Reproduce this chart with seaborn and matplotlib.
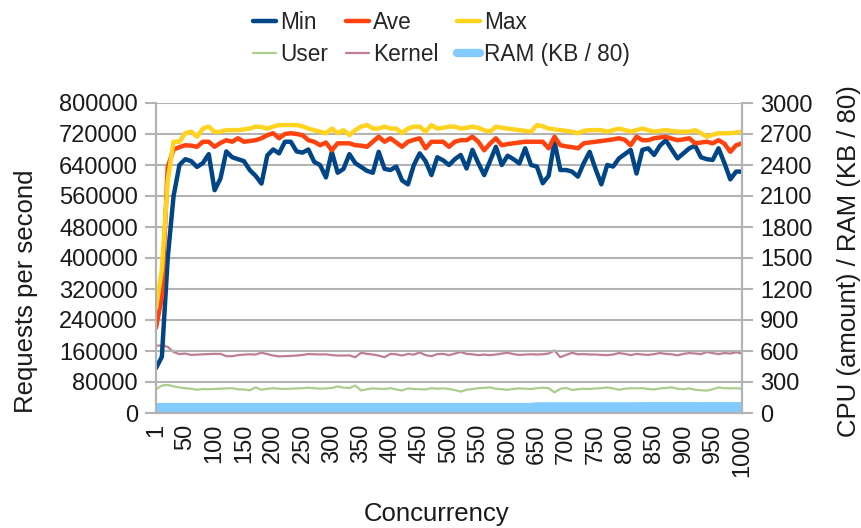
import matplotlib
matplotlib.use("Agg")
import matplotlib.pyplot as plt
import seaborn as sns
import pandas as pd
import numpy as np
from matplotlib.lines import Line2D

# Concurrency categories: 1, 10, 20, ... 1000
concurrency = [1] + list(range(10, 1001, 10))
tick_labels = ["1"] + [str(v) for v in range(50, 1001, 50)]

# Requests per second (left axis)
min_rps = [116000, 145000, 400000, 560000, 640000, 655000, 650000, 635000, 645000, 668000,
           575000, 605000, 675000, 660000, 655000, 650000, 627000, 612000, 592000, 665000,
           680000, 670000, 700000, 700000, 675000, 672000, 680000, 648000, 640000, 608000,
           674000, 620000, 630000, 668000, 645000, 635000, 625000, 620000, 674000, 630000,
           627000, 636000, 600000, 590000, 640000, 670000, 650000, 614000, 660000, 652000,
           640000, 655000, 666000, 631000, 679000, 645000, 614000, 650000, 687000, 640000,
           664000, 655000, 644000, 683000, 640000, 636000, 593000, 612000, 700000, 627000,
           627000, 623000, 610000, 645000, 674000, 630000, 590000, 640000, 636000, 657000,
           668000, 679000, 618000, 679000, 683000, 666000, 690000, 704000, 680000, 657000,
           670000, 683000, 690000, 660000, 655000, 653000, 683000, 645000, 603000, 623000,
           623000]
ave_rps = [220000, 300000, 635000, 680000, 686000, 691000, 690000, 687000, 700000, 700000,
           687000, 697000, 704000, 700000, 709000, 700000, 702000, 704000, 709000, 717000,
           722000, 709000, 720000, 722000, 720000, 717000, 704000, 700000, 691000, 698000,
           678000, 696000, 696000, 696000, 691000, 690000, 687000, 700000, 713000, 700000,
           709000, 698000, 687000, 700000, 705000, 709000, 683000, 700000, 700000, 700000,
           687000, 700000, 704000, 704000, 713000, 700000, 678000, 695000, 709000, 691000,
           694000, 696000, 698000, 700000, 700000, 700000, 700000, 683000, 713000, 691000,
           688000, 686000, 683000, 696000, 698000, 700000, 702000, 704000, 706000, 709000,
           705000, 691000, 713000, 704000, 704000, 709000, 711000, 713000, 708000, 704000,
           706000, 709000, 696000, 698000, 700000, 696000, 704000, 695000, 674000, 691000,
           696000]
max_rps = [270000, 370000, 600000, 700000, 700000, 722000, 726000, 713000, 734000, 739000,
           725000, 726000, 730000, 730000, 730000, 732000, 734000, 739000, 738000, 734000,
           739000, 743000, 743000, 743000, 743000, 740000, 734000, 730000, 726000, 722000,
           734000, 722000, 730000, 717000, 730000, 739000, 743000, 734000, 734000, 739000,
           734000, 734000, 722000, 734000, 739000, 739000, 726000, 743000, 734000, 736000,
           739000, 739000, 734000, 736000, 739000, 736000, 730000, 726000, 739000, 736000,
           734000, 732000, 730000, 728000, 726000, 743000, 740000, 734000, 732000, 730000,
           728000, 726000, 722000, 728000, 730000, 730000, 730000, 726000, 730000, 734000,
           730000, 726000, 730000, 734000, 730000, 726000, 728000, 730000, 728000, 726000,
           726000, 726000, 730000, 722000, 713000, 718000, 722000, 722000, 722000, 724000,
           726000]

# CPU / RAM (right axis)
user_cpu = [230, 265, 272, 258, 247, 240, 235, 225, 232, 230,
            233, 235, 238, 240, 230, 228, 220, 248, 225, 235,
            240, 235, 233, 235, 238, 240, 245, 240, 235, 238,
            242, 257, 245, 242, 265, 218, 230, 238, 235, 232,
            240, 228, 218, 238, 232, 230, 228, 240, 235, 238,
            233, 222, 207, 225, 232, 240, 243, 248, 235, 230,
            225, 233, 238, 235, 232, 240, 245, 240, 200, 235,
            242, 223, 230, 235, 232, 238, 240, 247, 238, 225,
            235, 240, 238, 240, 232, 228, 238, 242, 248, 235,
            230, 238, 225, 220, 217, 230, 247, 240, 238, 240,
            235]
kernel_cpu = [650, 655, 640, 590, 570, 575, 562, 565, 568, 570,
              572, 572, 550, 550, 560, 565, 568, 566, 583, 570,
              556, 548, 550, 553, 556, 562, 570, 568, 566, 568,
              560, 556, 556, 558, 540, 583, 572, 566, 556, 540,
              572, 568, 556, 572, 565, 586, 560, 550, 570, 572,
              560, 575, 590, 572, 568, 560, 565, 560, 566, 575,
              583, 570, 562, 566, 568, 566, 568, 575, 605, 540,
              562, 583, 568, 570, 566, 566, 562, 560, 566, 580,
              572, 560, 572, 566, 562, 570, 580, 572, 568, 558,
              572, 580, 576, 570, 590, 580, 570, 580, 575, 588,
              575]
ram = [47, 47, 47, 47, 47, 47, 47, 47, 47, 47,
       47, 47, 47, 47, 47, 47, 47, 47, 47, 47,
       47, 47, 47, 47, 47, 47, 47, 47, 47, 47,
       47, 47, 47, 47, 47, 47, 47, 47, 47, 47,
       47, 47, 47, 47, 47, 47, 47, 47, 47, 47,
       47, 47, 47, 47, 47, 47, 47, 47, 47, 47,
       47, 47, 47, 47, 47, 54, 54, 54, 54, 54,
       54, 54, 54, 54, 54, 54, 54, 54, 54, 54,
       54, 54, 54, 55, 56, 55, 56, 55, 56, 55,
       56, 55, 56, 55, 56, 55, 56, 55, 56, 55,
       56]

df = pd.DataFrame({
    "pos": np.arange(len(concurrency)),
    "Min": min_rps, "Ave": ave_rps, "Max": max_rps,
    "User": user_cpu, "Kernel": kernel_cpu, "RAM": ram,
})

sns.set_style("white")
plt.rcParams["font.family"] = ["Liberation Sans", "DejaVu Sans"]

grey = "#b3b3b3"
text_c = "#1a1a1a"
colors = {"Min": "#004586", "Ave": "#ff420e", "Max": "#ffd320",
          "User": "#abce8d", "Kernel": "#be8090", "RAM": "#83caff"}

fig = plt.figure(figsize=(8.62, 5.28), dpi=100)
ax = fig.add_axes([156 / 862, 1 - 413 / 528, 586 / 862, 310 / 528])
ax2 = ax.twinx()

# right axis series
sns.lineplot(data=df, x="pos", y="RAM", ax=ax2, color=colors["RAM"], linewidth=7.5,
             solid_capstyle="butt", legend=False)
sns.lineplot(data=df, x="pos", y="User", ax=ax2, color=colors["User"], linewidth=1.6, legend=False)
sns.lineplot(data=df, x="pos", y="Kernel", ax=ax2, color=colors["Kernel"], linewidth=1.6, legend=False)

# left axis series
for name in ["Min", "Ave", "Max"]:
    sns.lineplot(data=df, x="pos", y=name, ax=ax, color=colors[name], linewidth=3.2, legend=False)

ax.set_zorder(ax2.get_zorder() + 1)
ax.patch.set_visible(False)

ax.set_xlim(0, len(concurrency) - 1)
ax.set_ylim(0, 800000)
ax2.set_ylim(0, 3000)
ax.set_yticks(np.arange(0, 800001, 80000))
ax.set_yticklabels([str(v) for v in range(0, 800001, 80000)])
ax2.set_yticks(np.arange(0, 3001, 300))

labels = [str(c) if str(c) in tick_labels else "" for c in concurrency]
ax.set_xticks(df["pos"])
ax.set_xticklabels(labels, rotation=90)

ax.grid(axis="y", color=grey, linewidth=1.5)
ax.grid(axis="x", visible=False)
ax2.grid(False)

for a in (ax, ax2):
    for side in ["left", "right", "bottom"]:
        a.spines[side].set_color(grey)
        a.spines[side].set_linewidth(1.5)
    a.spines["top"].set_visible(False)
    a.tick_params(colors=grey, labelcolor=text_c, labelsize=17, width=1.5)
ax.tick_params(axis="y", length=8, pad=5)
ax.tick_params(axis="x", length=6, pad=2)
ax2.tick_params(axis="y", length=8, pad=5)

ax.set_xlabel("Concurrency", fontsize=18.5, color=text_c)
ax.set_ylabel("Requests per second", fontsize=18.5, color=text_c)
ax2.set_ylabel("CPU (amount) / RAM (KB / 80)", fontsize=18.5, color=text_c)
ax.xaxis.set_label_coords((437 - 156) / 586, (413 - 502) / 310)
ax.yaxis.set_label_coords((38 - 156) / 586, (413 - 291) / 310)
ax2.yaxis.set_label_coords((837 - 156) / 586, (413 - 261) / 310)

handles = [
    Line2D([], [], color=colors["Min"], lw=3.2),
    Line2D([], [], color=colors["User"], lw=1.6),
    Line2D([], [], color=colors["Ave"], lw=3.2),
    Line2D([], [], color=colors["Kernel"], lw=1.6),
    Line2D([], [], color=colors["Max"], lw=3.2),
    Line2D([], [], color=colors["RAM"], lw=6),
]
names = ["Min", "User", "Ave", "Kernel", "Max", "RAM (KB / 80)"]
fig.legend(handles, names, ncol=3, loc="upper left", bbox_to_anchor=(253 / 862, 1 - 11 / 528),
           frameon=False, fontsize=16.3, handlelength=1.0, handletextpad=0.2,
           columnspacing=0.8, labelspacing=0.4, borderpad=0, borderaxespad=0)

fig.savefig("out.png", dpi=100)
